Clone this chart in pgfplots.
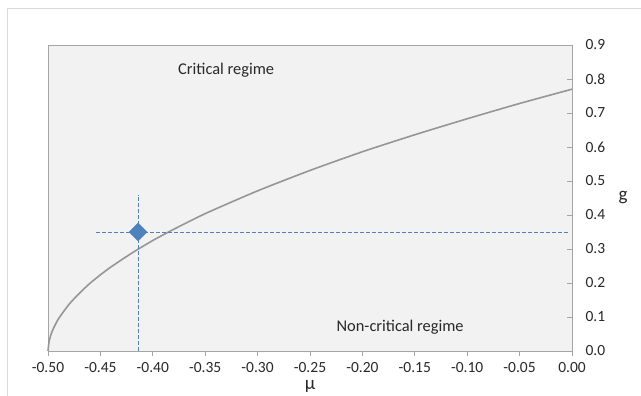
\documentclass[border=0pt]{standalone}
\usepackage{pgfplots}
\pgfplotsset{compat=1.18}
\usepackage{fontspec}
\setmainfont{Carlito}
\definecolor{plotbg}{RGB}{242,242,242}
\definecolor{curve}{RGB}{150,150,150}
\definecolor{axgray}{RGB}{165,165,165}
\definecolor{blu}{RGB}{79,129,189}
\definecolor{txt}{RGB}{40,40,40}
\begin{document}
\begin{tikzpicture}[x=1pt,y=1pt]
\begin{axis}[
  scale only axis, width=524pt, height=306pt,
  xmin=-0.5, xmax=0, ymin=0, ymax=0.9,
  axis background/.style={fill=plotbg},
  axis line style={axgray, line width=0.8pt},
  xtick pos=bottom, ytick pos=right,
  yticklabel pos=right,
  xtick={-0.5,-0.45,...,0.01},
  ytick={0,0.1,...,0.91},
  x tick label style={/pgf/number format/fixed, /pgf/number format/fixed zerofill, /pgf/number format/precision=2, yshift=-3pt},
  y tick label style={/pgf/number format/fixed, /pgf/number format/fixed zerofill, /pgf/number format/precision=1, xshift=10pt},
  /pgf/number format/assume math mode=true,
  ticklabel style={font=\fontsize{15.5}{17}\selectfont, text=txt},
  xtick style={axgray, line width=0.8pt},
  ytick style={axgray, line width=0.8pt},
  xtick align=outside, ytick align=inside,
  major tick length=5pt,
  xlabel={μ},
  label style={font=\fontsize{19}{21}\selectfont, text=txt},
  xlabel style={at={(0.5,0)}, anchor=center, yshift=-35pt},
  clip=false,
]
\coordinate (sw) at (rel axis cs:0,0);
\addplot[curve, line width=1.6pt, smooth, tension=0.4] coordinates {
(-0.5,0) (-0.499,0.0276) (-0.497,0.0496) (-0.495,0.0652) (-0.49,0.0946)
(-0.48,0.137) (-0.47,0.170) (-0.46,0.199) (-0.45,0.224) (-0.44,0.247)
(-0.42,0.288) (-0.40,0.325) (-0.38,0.358) (-0.35,0.404) (-0.30,0.471)
(-0.25,0.531) (-0.20,0.586) (-0.15,0.636) (-0.10,0.683) (-0.05,0.728) (0,0.77)
};
\addplot[blu, line width=0.8pt, dash pattern=on 3.5pt off 2.5pt] coordinates {(-0.454,0.35) (-0.003,0.35)};
\addplot[blu, line width=0.8pt, dash pattern=on 3.5pt off 2.5pt] coordinates {(-0.414,0) (-0.414,0.46)};
\addplot[only marks, mark=square*, mark size=6.4pt, mark options={fill=blu, draw=blu, rotate=45}] coordinates {(-0.414,0.35)};
\node[font=\fontsize{16.4}{18}\selectfont, text=txt] at (axis cs:-0.330,0.826) {Critical regime};
\node[font=\fontsize{16.4}{18}\selectfont, text=txt] at (axis cs:-0.164,0.071) {Non-critical regime};
\node[font=\fontsize{19}{21}\selectfont, text=txt, xshift=51pt] at (rel axis cs:1,0.5) {g};
\end{axis}
\path (sw) ++(-48,-45) coordinate (bl);
\path (sw) ++(593,351) coordinate (tr);
\path (sw) ++(-40,-45) coordinate (fb);
\path (sw) ++(-40,342) coordinate (fc);
\path (sw) ++(593,342) coordinate (fr);
\draw[color={rgb,255:red,217;green,217;blue,217}, line width=1pt] (fb) -- (fc) -- (fr);
\pgfresetboundingbox
\useasboundingbox (bl) rectangle (tr);
\end{tikzpicture}
\end{document}
